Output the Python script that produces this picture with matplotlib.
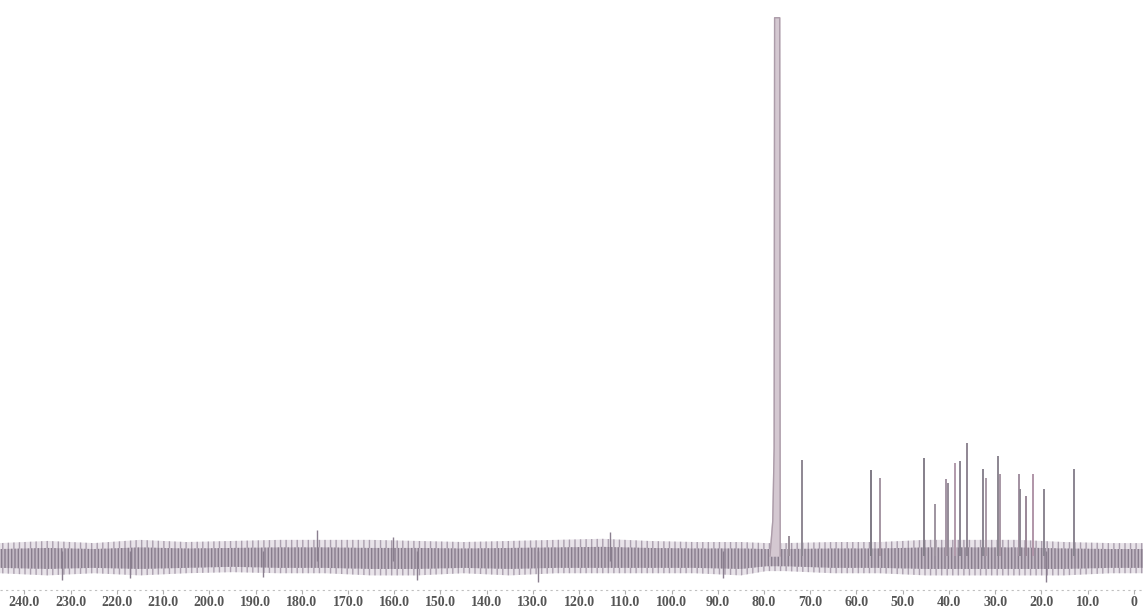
import matplotlib
matplotlib.use("Agg")
import matplotlib.pyplot as plt

# 13C NMR spectrum, peaks (ppm, relative intensity)
peak_ppm = [74.6, 71.8, 56.9, 54.9, 45.4, 43.0, 40.7, 40.2, 38.7, 37.6, 36.1,
            32.7, 32.0, 29.4, 29.0, 24.9, 24.7, 23.4, 21.8, 19.5, 13.0]
peak_int = [3.7, 17.9, 16.0, 14.5, 18.2, 9.7, 14.3, 13.6, 17.3, 17.7, 21.0,
            16.2, 14.5, 18.6, 15.3, 15.3, 12.5, 11.2, 15.3, 12.5, 16.2]
peak_col = ['#9a8f9a', '#8e8793', '#7f7a85', '#a596a3', '#857f8a', '#9e94a0',
            '#a495a4', '#958b98', '#b19aab', '#8b8592', '#8f8693',
            '#8a8490', '#a899a6', '#8c8691', '#a797a5', '#a291a1', '#8e8793',
            '#9a8898', '#b095a8', '#8b8591', '#8a8490']

# solvent (CDCl3) peak outline
solv_ppm = [78.7, 78.1, 77.8, 77.7, 76.6, 76.5]
solv_int = [0.0, 6.5, 20.0, 100.0, 100.0, 0.0]

# noise band envelope (outer reach and dense core)
env_ppm = [245.3, 235, 225, 215, 205, 195, 185, 175, 165, 155, 145, 135, 125,
           115, 105, 95, 85, 79.5, 75.5, 65, 55, 45, 35, 25, 15, 5, -2.0]
env_top = [2.4, 2.8, 2.4, 3.0, 2.6, 2.8, 3.0, 3.0, 3.0, 2.8, 2.6, 2.8, 3.0,
           3.2, 2.8, 2.6, 2.6, 2.4, 2.4, 2.6, 2.6, 3.0, 3.0, 3.0, 2.6, 2.4, 2.4]
env_bot = [-3.2, -3.6, -3.2, -3.6, -3.2, -3.0, -3.2, -3.2, -3.6, -3.6, -3.2,
           -3.6, -3.2, -3.2, -3.2, -3.2, -3.6, -2.8, -2.8, -3.2, -3.2, -3.6,
           -3.6, -3.6, -3.6, -3.2, -3.2]
core_top = [1.3, 1.5, 1.3, 1.6, 1.4, 1.5, 1.6, 1.6, 1.5, 1.5, 1.4, 1.5, 1.6,
            1.7, 1.5, 1.4, 1.4, 1.3, 1.3, 1.4, 1.4, 1.6, 1.6, 1.6, 1.4, 1.3, 1.3]
core_bot = [-2.2, -2.4, -2.2, -2.4, -2.2, -2.0, -2.2, -2.2, -2.4, -2.4, -2.2,
            -2.4, -2.2, -2.2, -2.2, -2.2, -2.4, -1.9, -1.9, -2.2, -2.2, -2.4,
            -2.4, -2.4, -2.4, -2.2, -2.2]

# stray noise spikes seen in the trace
spike_ppm = [231.9, 217.2, 188.4, 176.7, 160.3, 155.1, 128.9, 113.3, 88.9, 19.0]
spike_lo = [-4.5, -4.1, -3.9, -1.0, -1.0, -4.5, -4.8, -1.0, -4.1, -4.8]
spike_hi = [1.0, 1.0, 1.0, 4.8, 3.5, 1.0, 1.0, 4.5, 1.0, 1.0]

tick_vals = [240, 230, 220, 210, 200, 190, 180, 170, 160, 150, 140, 130, 120,
             110, 100, 90, 80, 70, 60, 50, 40, 30, 20, 10, 0]
tick_text = ['%.1f' % v if v != 0 else '0' for v in tick_vals]

plt.rcParams['hatch.linewidth'] = 1.0

fig = plt.figure(figsize=(11.43, 6.12), dpi=100)
ax = fig.add_axes([0, 0, 1, 1])
ax.set_xlim(245.3, -2.0)
ax.set_ylim(-10.4, 103.3)
ax.axis('off')

# baseline noise
ax.fill_between(env_ppm, env_bot, env_top, facecolor='#e8e3e9',
                edgecolor='#aa9fae', hatch='|||', linewidth=0)
ax.fill_between(env_ppm, core_bot, core_top, facecolor='#c1b7c3',
                edgecolor='#887d8d', hatch='|||||', linewidth=0)
ax.vlines(spike_ppm, spike_lo, spike_hi, color='#8a7f8f', lw=1.0)

# signals
ax.vlines(peak_ppm, 0, peak_int, colors=peak_col, lw=1.4)
ax.fill(solv_ppm, solv_int, color='#d4c8d1')
ax.plot(solv_ppm, solv_int, color='#ac9ca9', lw=1.0)

# dashed ppm axis
ax.axhline(-6.3, color='#c0c0c0', lw=0.8, ls=(0, (2, 3)))
ax.vlines(tick_vals, -6.3, -7.0, color='#b0b0b0', lw=0.8)
for v, t in zip(tick_vals, tick_text):
    ax.text(v, -8.6, t, ha='center', va='center', fontsize=10,
            family='Liberation Serif', fontweight='bold', color='#555555')

fig.savefig('out.png', dpi=100)
